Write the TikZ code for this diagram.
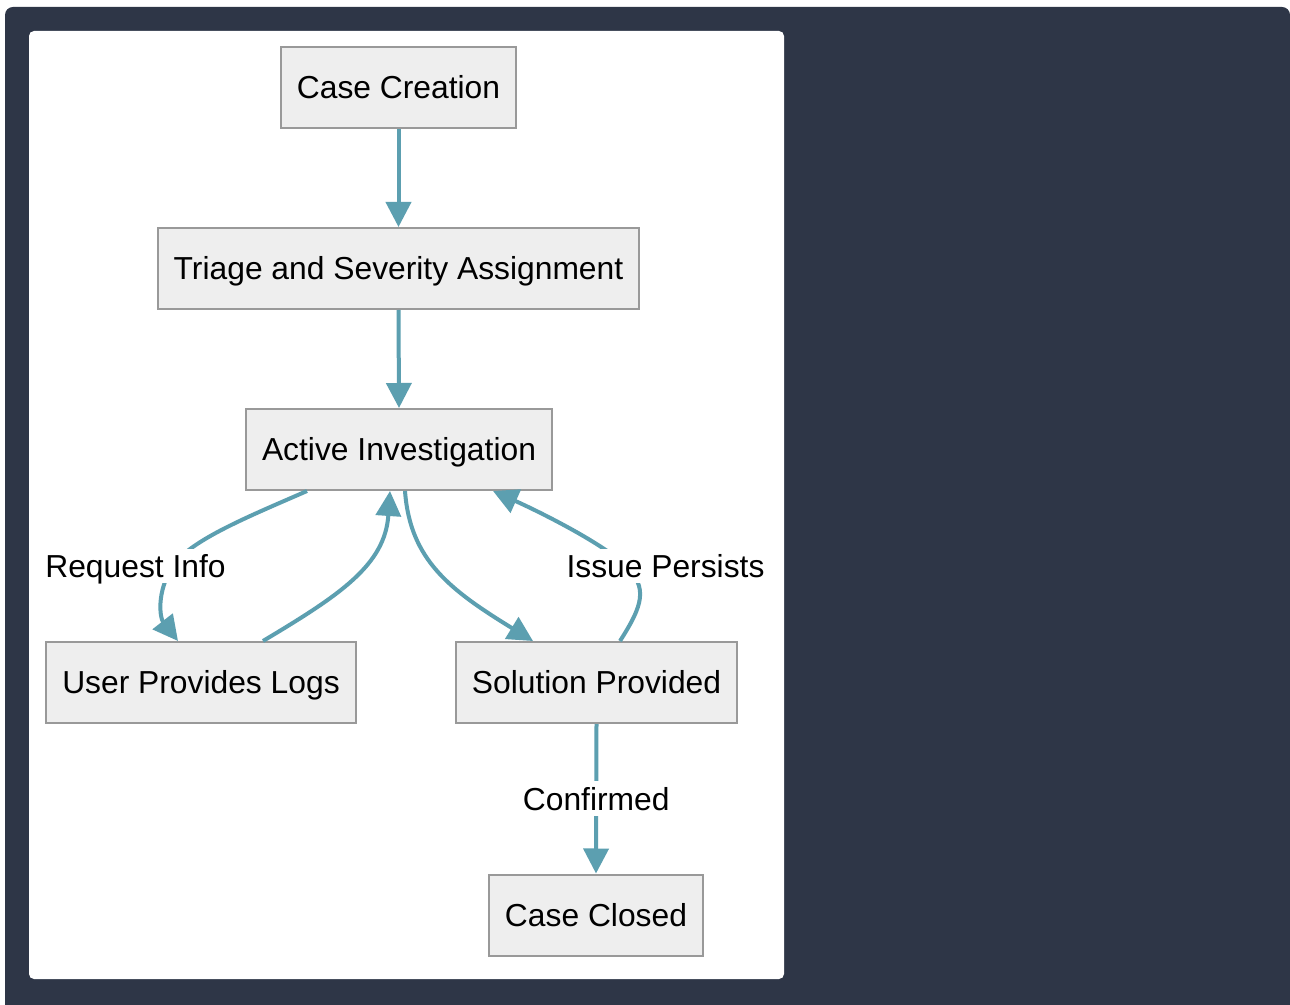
\documentclass[tikz,border=0pt]{standalone}
\usepackage{fontspec}
\setmainfont{Liberation Sans}
\usetikzlibrary{arrows.meta}

\definecolor{slate}{HTML}{2E3647}
\definecolor{boxfill}{HTML}{EEEEEE}
\definecolor{boxline}{HTML}{999999}
\definecolor{flowcol}{HTML}{5C9FB0}

\begin{document}
\begin{tikzpicture}[x = 0.5pt, y = -0.5pt,
                    font = \fontsize{15.9}{19}\selectfont,
                    box/.style = {draw = boxline, fill = boxfill, line width = 1pt, inner xsep = 8pt,
                                  minimum height = 40.5pt, text height = 11.4pt, text depth = 0pt},
                    flow/.style = {draw = flowcol, line width = 2pt, -{Triangle[length = 12.5pt, width = 12.5pt]}},
                    tag/.style = {fill = white, inner xsep = 1pt, inner ysep = 1pt,
                                  text height = 13.4pt, text depth = 2.05pt}]
      \useasboundingbox (0, 0) rectangle (1290, 1005);
      \fill [slate, rounded corners = 4pt] (5, 7) rectangle (1290, 1014);
      \fill [white, rounded corners = 2.5pt] (29, 31) rectangle (784, 979);

      \node [box] (create) at (398.5, 87.5){Case Creation};
      \node [box] (triage) at (398.5, 268.5){Triage and Severity Assignment};
      \node [box] (active) at (399, 449.5){Active Investigation};
      \node [box] (logs) at (201, 682.5){User Provides Logs};
      \node [box] (solved) at (596.5, 682.5){Solution Provided};
      \node [box] (closed) at (596, 915){Case Closed};

      \draw [flow] (create.south) -- (triage.north);
      \draw [flow] (triage.south) -- (active.north);
      \draw [flow] ([xshift = -46pt]active.south) .. controls (250, 516) and (190, 540) .. (173, 566)
                   .. controls (156, 592) and (160, 618) .. ([xshift = -11.5pt]logs.north);
      \draw [flow] ([xshift = 31pt]logs.north) .. controls (340, 595) and (385, 565) .. ([xshift = -4.5pt]active.south);
      \draw [flow] ([xshift = 3pt]active.south) .. controls (410, 560) and (450, 590) .. ([xshift = -31.75pt]solved.north);
      \draw [flow] ([xshift = 11.75pt]solved.north) .. controls (643, 605) and (648, 588) .. (626, 566)
                   .. controls (604, 544) and (540, 512) .. ([xshift = 47pt]active.south);
      \draw [flow] (solved.south) -- node [tag] (confirm){Confirmed} (closed.north);

      \node [tag] (reqinfo) at (135.5, 566){Request Info};
      \node [tag] (persists) at (665.5, 566){Issue Persists};
    \end{tikzpicture}
\end{document}
